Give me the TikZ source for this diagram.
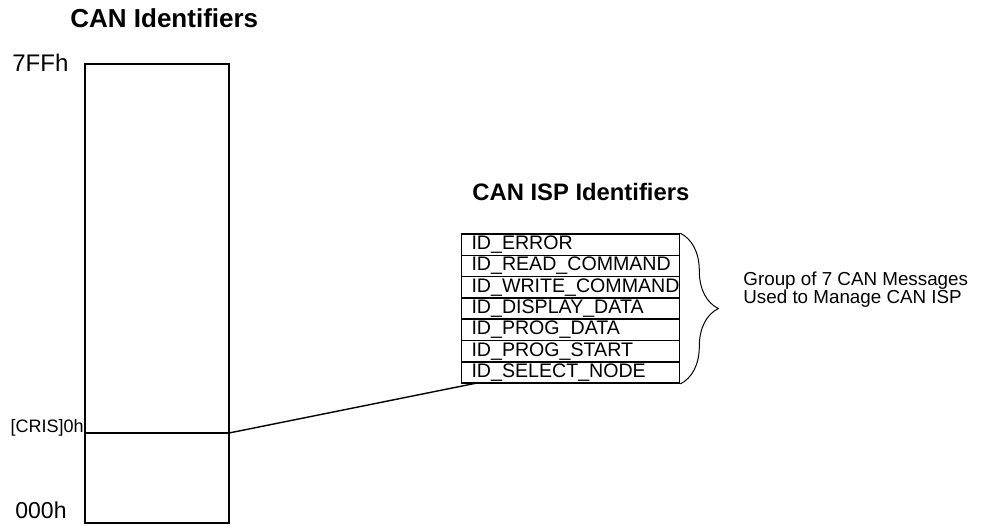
\documentclass[tikz,border=0pt]{standalone}
\usepackage{fontspec}
\setmainfont{Liberation Sans}
\usetikzlibrary{decorations.pathreplacing}

\tikzset{
  lbl/.style={inner sep=0pt},
  idrow/.style={draw, line width=0.8pt, minimum width=109pt, minimum height=10.65pt,
    inner sep=0pt, text width=109pt, align=left, font=\fontsize{9.8}{10}\selectfont},
}

\begin{document}
\begin{tikzpicture}[x=0.5pt, y=-0.5pt]
\useasboundingbox (0, 0) rectangle (983, 525);

\node[lbl, anchor=base west, font=\fontsize{13}{15}\selectfont\bfseries] (title) at (70, 27) {CAN Identifiers};
\node[lbl, anchor=base west, font=\fontsize{12}{14}\selectfont] (top) at (12, 71) {7FFh};
\node[lbl, anchor=base west, font=\fontsize{11.5}{14}\selectfont] (bottom) at (15, 518) {000h};
\node[lbl, anchor=base east, font=\fontsize{9}{11}\selectfont] (cris) at (84, 432) {[CRIS]0h};

\draw[line width=1pt] (85, 64) rectangle (229, 523);
\draw[line width=1pt] (85, 433) -- (229, 433);
\coordinate (crisline) at (229, 433);

\node[lbl, anchor=base west, font=\fontsize{11.9}{14}\selectfont\bfseries] (isptitle) at (472, 200) {CAN ISP Identifiers};

\foreach \name [count=\i] in {ID\_ERROR, ID\_READ\_COMMAND, ID\_WRITE\_COMMAND,
    ID\_DISPLAY\_DATA, ID\_PROG\_DATA, ID\_PROG\_START, ID\_SELECT\_NODE}
  \node[idrow] (id\i) at (570.5, {234 + 21.3*(\i - 0.5)}) {\hspace*{5pt}\name};

\coordinate (link) at (477, 383);
\draw[line width=0.7pt] (crisline) -- (link);

\draw[line width=0.5pt, decorate, decoration={brace, amplitude=19pt}] (id1.north east) -- (id7.south east);

\node[lbl, anchor=west, align=left, font=\fontsize{9.4}{9}\selectfont] (group) at (743, 290)
  {Group of 7 CAN Messages\\Used to Manage CAN ISP};

\end{tikzpicture}
\end{document}
